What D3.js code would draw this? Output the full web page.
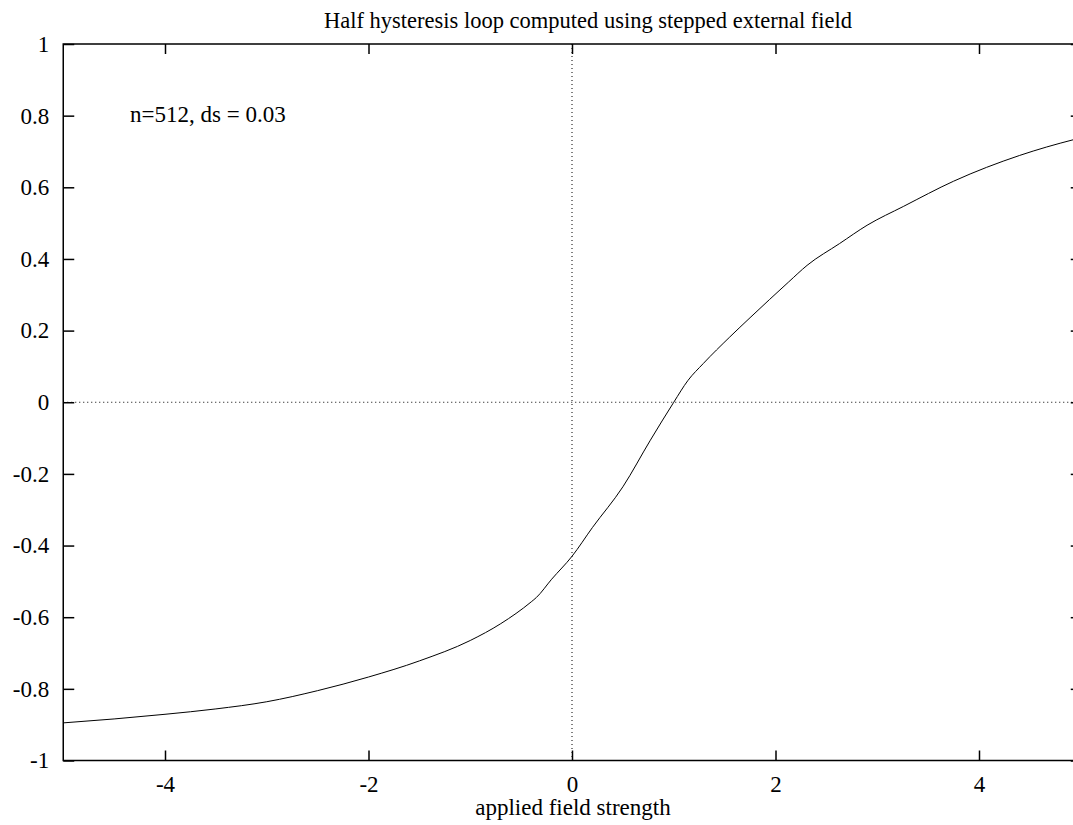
<!DOCTYPE html>
<html>
<head>
<meta charset="utf-8">
<script src="https://d3js.org/d3.v7.min.js"></script>
<style>
  body { margin: 0; background: #fff; }
  svg { display: block; font-family: "Liberation Serif", "Times New Roman", serif; }
</style>
</head>
<body>
<div id="chart-container"></div>
<script>
// - - Data - -
const fieldValues = [-5.0, -4.5, -4.0, -3.5, -3.0, -2.5, -2.0, -1.5, -1.0, -0.7, -0.4, -0.35, -0.2,
    0.0, 0.2, 0.5, 0.77, 1.0, 1.14, 1.29, 1.55, 1.75, 2.13, 2.31, 2.63, 2.9, 3.26, 3.75, 4.4, 4.93, 5.0];
const magnetValues = [-0.895, -0.884, -0.871, -0.856, -0.836, -0.805, -0.767, -0.722, -0.665, -0.618, -0.557, -0.545, -0.494,
    -0.430, -0.350, -0.236, -0.106, 0.0, 0.061, 0.108, 0.182, 0.236, 0.336, 0.382, 0.443, 0.494, 0.547, 0.617, 0.689, 0.733, 0.738];
const xTicks = [-4, -2, 0, 2, 4];
const yTicks = [-1, -0.8, -0.6, -0.4, -0.2, 0, 0.2, 0.4, 0.6, 0.8, 1];
const titleText = "Half hysteresis loop computed using stepped external field";
const xLabel = "applied field strength";
const noteText = "n=512, ds = 0.03";

// Chart Sizing
const SVG_W = 1073, SVG_H = 825;
const plotLeft = 63.25, plotRight = 1080.75, plotTop = 44, plotBottom = 760.5;
const FONT = "'Liberation Serif', 'Times New Roman', serif";

const svg = d3.select("#chart-container")
    .append("svg")
        .attr("width", SVG_W)
        .attr("height", SVG_H);

const x = d3.scaleLinear().domain([-5, 5]).range([plotLeft, plotRight]);
const y = d3.scaleLinear().domain([-1, 1]).range([plotBottom, plotTop]);

const fmt = d => String(+d.toFixed(1));

// zero lines (dotted)
svg.append("line")
    .attr("x1", plotLeft).attr("x2", plotRight)
    .attr("y1", y(0)).attr("y2", y(0))
    .attr("stroke", "#000").attr("stroke-width", 1)
    .attr("stroke-dasharray", "1,3");
svg.append("line")
    .attr("x1", x(0)).attr("x2", x(0))
    .attr("y1", plotTop).attr("y2", plotBottom)
    .attr("stroke", "#000").attr("stroke-width", 1)
    .attr("stroke-dasharray", "1,3");

// - - Axes - -
function styleAxis(g) {
    g.attr("font-family", FONT).attr("font-size", 23);
    g.select(".domain").remove();
    g.selectAll(".tick line").attr("stroke", "#000").attr("stroke-width", 1.5);
    g.selectAll(".tick text").attr("fill", "#000");
}

svg.append("g")
    .attr("transform", `translate(0,${plotBottom})`)
    .call(d3.axisBottom(x).tickValues(xTicks).tickFormat(fmt).tickSizeInner(-10).tickSizeOuter(0).tickPadding(15))
    .call(styleAxis);

svg.append("g")
    .attr("transform", `translate(0,${plotTop})`)
    .call(d3.axisTop(x).tickValues(xTicks).tickFormat("").tickSizeInner(-10).tickSizeOuter(0))
    .call(styleAxis);

svg.append("g")
    .attr("transform", `translate(${plotLeft},0)`)
    .call(d3.axisLeft(y).tickValues(yTicks).tickFormat(fmt).tickSizeInner(-11).tickSizeOuter(0).tickPadding(14))
    .call(styleAxis);

svg.append("g")
    .attr("transform", `translate(${plotRight},0)`)
    .call(d3.axisRight(y).tickValues(yTicks).tickFormat("").tickSizeInner(-10).tickSizeOuter(0))
    .call(styleAxis);

// plot border
svg.append("rect")
    .attr("x", plotLeft).attr("y", plotTop)
    .attr("width", plotRight - plotLeft).attr("height", plotBottom - plotTop)
    .attr("fill", "none").attr("stroke", "#000").attr("stroke-width", 1.5);

// - - Curve - -
const points = fieldValues.map((f, i) => [f, magnetValues[i]]);
const line = d3.line()
    .x(d => x(d[0]))
    .y(d => y(d[1]))
    .curve(d3.curveMonotoneX);

svg.append("path")
    .datum(points)
    .attr("d", line)
    .attr("fill", "none")
    .attr("stroke", "#000")
    .attr("stroke-width", 1);

// - - Texts - -
svg.append("text")
    .attr("x", 588).attr("y", 28)
    .attr("text-anchor", "middle")
    .style("font-size", "22.5px")
    .text(titleText);

svg.append("text")
    .attr("x", 573).attr("y", 815)
    .attr("text-anchor", "middle")
    .style("font-size", "23px")
    .text(xLabel);

svg.append("text")
    .attr("x", 130).attr("y", 122)
    .style("font-size", "23px")
    .text(noteText);
</script>
</body>
</html>
